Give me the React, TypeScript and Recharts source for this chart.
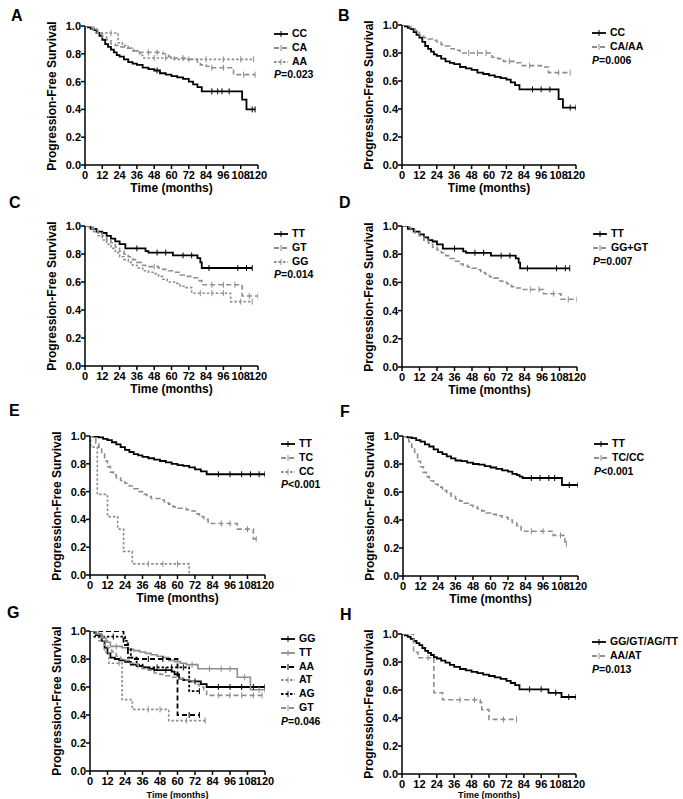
import React from "react";
import { LineChart, Line, XAxis, YAxis } from "recharts";

const FONT = "'Liberation Sans', Arial, Helvetica, sans-serif";

// [months, survival, censored?]
type Pt = [number, number, number?];

const xTicks = [0, 12, 24, 36, 48, 60, 72, 84, 96, 108, 120];
const yTicks = [0, 0.2, 0.4, 0.6, 0.8, 1.0];

// Panel A
const aLabels = ["CC", "CA", "AA"];
const aCC: Pt[] = [[0,1],[2,0.99],[4,0.98],[6,0.97],[8,0.95],[10,0.93],[12,0.9],[14,0.87],[16,0.85],[18,0.83],[20,0.81],[22,0.79],[24,0.78],[27,0.76],[30,0.74],[33,0.73],[36,0.72],[40,0.7],[44,0.69],[48,0.68],[50,0.68,1],[52,0.66],[56,0.65],[60,0.64],[64,0.63],[68,0.62],[72,0.6],[75,0.58],[78,0.56],[81,0.53],[88,0.53,1],[92,0.53,1],[95,0.53,1],[100,0.53,1],[109,0.47],[112,0.4],[116,0.4,1],[118,0.4,1]];
const aCA: Pt[] = [[0,1],[3,0.99],[6,0.97],[9,0.95],[12,0.92],[15,0.9],[18,0.87],[21,0.86],[24,0.85],[28,0.84],[32,0.82],[36,0.81],[44,0.81,1],[50,0.81,1],[54,0.8],[58,0.78],[62,0.77],[68,0.77,1],[72,0.76],[78,0.74],[80,0.72],[84,0.71],[88,0.7,1],[96,0.7,1],[103,0.65],[110,0.65,1],[118,0.65,1]];
const aAA: Pt[] = [[0,1],[4,0.98],[8,0.95],[18,0.95,1],[23,0.88],[26,0.86],[30,0.84],[34,0.82],[38,0.79],[40,0.77],[48,0.77,1],[56,0.77,1],[60,0.76],[72,0.76,1],[84,0.76,1],[96,0.76,1],[108,0.76,1],[117,0.76,1]];

// Panel B
const bLabels = ["CC", "CA/AA"];
const bCC: Pt[] = [[0,1],[2,0.99],[4,0.98],[6,0.97],[8,0.95],[10,0.93],[12,0.91],[14,0.88],[16,0.85],[18,0.83],[20,0.81],[22,0.79],[24,0.78],[27,0.76],[30,0.74],[33,0.73],[36,0.72],[40,0.7],[44,0.69],[48,0.68],[52,0.66],[56,0.65],[60,0.64],[64,0.63],[68,0.62],[72,0.61],[75,0.59],[78,0.57],[81,0.54],[90,0.54,1],[96,0.54,1],[102,0.54,1],[108,0.47],[111,0.41],[116,0.41,1],[120,0.41,1]];
const bCAAA: Pt[] = [[0,1],[3,0.99],[6,0.98],[9,0.96],[12,0.93],[15,0.91],[18,0.9],[21,0.89],[24,0.88],[27,0.86],[30,0.85],[33,0.83],[36,0.82],[40,0.8],[46,0.8,1],[52,0.8,1],[58,0.8,1],[62,0.77],[66,0.76],[70,0.74],[74,0.74,1],[78,0.73],[82,0.71],[88,0.71,1],[96,0.7],[101,0.66],[108,0.66,1],[116,0.66,1]];

// Panel C
const cLabels = ["TT", "GT", "GG"];
const cTT: Pt[] = [[0,1],[4,0.98],[8,0.96],[12,0.95],[15,0.93],[18,0.91],[21,0.89],[24,0.87],[28,0.84],[36,0.84,1],[42,0.82],[44,0.81],[50,0.81,1],[56,0.81,1],[61,0.79],[68,0.79,1],[74,0.79,1],[78,0.77],[80,0.74],[81,0.7],[86,0.7,1],[106,0.7,1],[112,0.7,1],[116,0.7,1]];
const cGT: Pt[] = [[0,1],[3,0.99],[6,0.97],[9,0.95],[12,0.93],[15,0.9],[18,0.88],[21,0.85],[24,0.82],[27,0.8],[30,0.78],[33,0.76],[36,0.74],[39,0.72],[42,0.71],[48,0.71,1],[51,0.7],[54,0.69],[58,0.68],[62,0.67],[66,0.65],[70,0.64],[74,0.63],[78,0.61],[81,0.58],[88,0.58,1],[96,0.58,1],[104,0.58,1],[109,0.5],[114,0.5,1],[120,0.5,1]];
const cGG: Pt[] = [[0,1],[3,0.98],[6,0.96],[9,0.93],[12,0.9],[15,0.87],[18,0.84],[21,0.81],[24,0.78],[27,0.76],[30,0.74],[33,0.72],[36,0.7],[40,0.68],[44,0.67],[48,0.66],[51,0.64],[54,0.62],[57,0.6],[62,0.59],[66,0.57],[70,0.56],[74,0.52],[80,0.52,1],[88,0.52,1],[96,0.52,1],[101,0.46],[108,0.46,1],[116,0.46,1]];

// Panel D
const dLabels = ["TT", "GG+GT"];
const dTT: Pt[] = [[0,1],[4,0.98],[8,0.96],[12,0.94],[15,0.92],[18,0.9],[21,0.89],[24,0.87],[28,0.84],[36,0.84,1],[42,0.82],[44,0.81],[50,0.81,1],[56,0.81,1],[61,0.79],[68,0.79,1],[74,0.79,1],[78,0.77],[80,0.74],[81,0.7],[86,0.7,1],[106,0.7,1],[112,0.7,1],[115,0.7,1]];
const dGGGT: Pt[] = [[0,1],[3,0.99],[6,0.97],[9,0.95],[12,0.93],[15,0.9],[18,0.88],[21,0.85],[24,0.83],[27,0.81],[30,0.79],[33,0.77],[36,0.75],[39,0.73],[42,0.72],[45,0.71],[48,0.7],[51,0.69],[54,0.67],[57,0.66],[60,0.64],[63,0.63],[66,0.61],[69,0.6],[72,0.59],[75,0.57],[78,0.56],[82,0.55],[88,0.55,1],[94,0.55,1],[97,0.52],[104,0.52,1],[109,0.48],[114,0.48,1],[120,0.48,1]];

// Panel E
const eLabels = ["TT", "TC", "CC"];
const eTT: Pt[] = [[0,1],[3,0.995],[6,0.99],[9,0.98],[12,0.97],[15,0.955],[18,0.94],[21,0.92],[24,0.9],[27,0.885],[30,0.87],[33,0.86],[36,0.85],[40,0.84],[44,0.83],[48,0.82],[52,0.81],[56,0.8],[60,0.79],[64,0.785],[68,0.775],[72,0.76],[76,0.745],[80,0.725],[88,0.725,1],[96,0.725,1],[104,0.725,1],[110,0.725,1],[116,0.725,1],[120,0.725,1]];
const eTC: Pt[] = [[0,1],[2,0.98],[4,0.95],[6,0.92],[8,0.87],[10,0.82],[12,0.78],[14,0.74],[16,0.72],[18,0.7],[21,0.68],[24,0.66],[27,0.64],[30,0.62],[33,0.6],[36,0.58],[39,0.565],[42,0.55],[48,0.54],[51,0.52],[54,0.51],[57,0.49],[60,0.48],[66,0.47],[70,0.46],[72,0.44],[75,0.42],[78,0.4],[81,0.37],[90,0.37,1],[96,0.37,1],[101,0.33],[108,0.33,1],[112,0.26],[114,0.26,1]];
const eCC: Pt[] = [[0,1],[0.5,0.92],[5,0.58],[12,0.42],[19,0.33],[23,0.17],[29,0.08],[40,0.08,1],[50,0.08,1],[60,0.08,1],[68,0]];

// Panel F
const fLabels = ["TT", "TC/CC"];
const fTT: Pt[] = [[0,1],[3,0.99],[6,0.985],[9,0.97],[12,0.96],[15,0.94],[18,0.925],[21,0.905],[24,0.885],[27,0.87],[30,0.855],[33,0.84],[36,0.825],[40,0.82],[44,0.81],[48,0.8],[52,0.795],[56,0.785],[60,0.775],[64,0.765],[68,0.755],[72,0.745],[75,0.73],[78,0.72],[80,0.71],[82,0.7],[88,0.7,1],[94,0.7,1],[100,0.7,1],[104,0.7,1],[109,0.65],[114,0.65,1],[120,0.65,1]];
const fTCCC: Pt[] = [[0,1],[2,0.985],[4,0.96],[6,0.92],[8,0.87],[10,0.82],[12,0.78],[14,0.74],[16,0.71],[18,0.68],[21,0.655],[24,0.635],[27,0.61],[30,0.59],[33,0.57],[36,0.55],[39,0.535],[42,0.52],[45,0.505],[48,0.495],[51,0.48],[54,0.465],[57,0.45],[60,0.44],[64,0.43],[68,0.42],[72,0.4],[75,0.38],[78,0.36],[81,0.32],[88,0.32,1],[96,0.32,1],[103,0.29],[108,0.29,1],[111,0.23],[112,0.23,1]];

// Panel G
const gLabels = ["GG", "TT", "AA", "AT", "AG", "GT"];
const gGG: Pt[] = [[0,1],[4,0.97],[8,0.93],[10,0.88],[12,0.84],[14,0.81],[17,0.8],[20,0.79],[24,0.78],[28,0.76],[32,0.75],[36,0.74],[40,0.73],[44,0.72],[52,0.72,1],[56,0.71],[58,0.69],[61,0.66],[64,0.65],[68,0.64],[72,0.64,1],[76,0.62],[80,0.6],[88,0.6,1],[96,0.6,1],[104,0.6,1],[112,0.6,1],[120,0.6,1]];
const gTT: Pt[] = [[0,1],[4,0.98],[8,0.95],[11,0.92],[14,0.89],[18,0.89,1],[22,0.88],[26,0.87],[30,0.86],[34,0.85],[38,0.84],[42,0.83],[46,0.82],[50,0.81],[54,0.79],[58,0.78],[62,0.77],[66,0.76],[70,0.76,1],[74,0.73],[82,0.73,1],[90,0.73,1],[96,0.73,1],[101,0.67],[106,0.67,1],[110,0.58],[116,0.58,1],[120,0.58,1]];
const gAA: Pt[] = [[0,1],[22,1],[23,0.9],[26,0.81],[30,0.8],[40,0.8,1],[50,0.8,1],[59,0.8],[60,0.4],[68,0.4,1],[75,0.4,1]];
const gAT: Pt[] = [[0,1],[6,0.93],[10,0.85],[13,0.77],[20,0.77,1],[22,0.51],[29,0.44],[40,0.44,1],[48,0.44,1],[54,0.36],[66,0.36,1],[79,0.36,1]];
const gAG: Pt[] = [[0,1],[3,0.96],[16,0.96,1],[24,0.93],[26,0.87],[28,0.81],[32,0.76],[36,0.74],[46,0.74,1],[56,0.74,1],[64,0.74,1],[68,0.57],[75,0.57,1]];
const gGT: Pt[] = [[0,1],[3,0.98],[6,0.96],[9,0.93],[12,0.88],[15,0.85],[18,0.82],[21,0.8],[24,0.79],[27,0.77],[30,0.76],[33,0.74],[36,0.73],[40,0.72],[44,0.7],[48,0.69],[52,0.68],[56,0.67],[60,0.66],[64,0.65],[68,0.64],[72,0.62],[75,0.6],[78,0.57],[80,0.54],[88,0.54,1],[96,0.54,1],[104,0.54,1],[112,0.54,1],[118,0.54,1]];

// Panel H
const hLabels = ["GG/GT/AG/TT", "AA/AT"];
const hMain: Pt[] = [[0,1],[2,0.99],[4,0.98],[6,0.965],[8,0.95],[10,0.935],[12,0.92],[14,0.9],[16,0.88],[18,0.865],[20,0.85],[22,0.835],[24,0.825],[27,0.81],[30,0.795],[33,0.78],[36,0.765],[40,0.75],[44,0.74],[48,0.73],[52,0.72],[56,0.71],[60,0.7],[64,0.69],[68,0.68],[72,0.665],[75,0.65],[78,0.635],[81,0.605],[88,0.605,1],[96,0.605,1],[101,0.58],[106,0.58,1],[110,0.55],[115,0.55,1],[120,0.55,1]];
const hAAAT: Pt[] = [[0,1],[8,0.87],[11,0.83],[18,0.83,1],[22,0.58],[28,0.53],[40,0.53,1],[50,0.53,1],[54,0.51],[55,0.46],[60,0.39],[70,0.39,1],[79,0.39,1]];

const pValues = ["=0.023", "=0.006", "=0.014", "=0.007", "<0.001", "<0.001", "=0.046", "=0.013"];

const BLACK = "#000";
const GRAY = "#8d8d8d";
const LONG = "5 3";
const SHORT = "2.5 2";

interface Series { name: string; pts: Pt[]; color: string; dash?: string }
interface Panel {
  letter: string;
  letterX: number;
  letterBase: number;
  xL: number;
  xR: number;
  yT: number;
  yB: number;
  series: Series[];
  p: string;
}

const panels: Panel[] = [
  { letter: "A", letterX: 11, letterBase: 21, xL: 85, xR: 258, yT: 26, yB: 165, p: pValues[0],
    series: [
      { name: aLabels[0], pts: aCC, color: BLACK },
      { name: aLabels[1], pts: aCA, color: GRAY, dash: LONG },
      { name: aLabels[2], pts: aAA, color: GRAY, dash: SHORT },
    ] },
  { letter: "B", letterX: 338, letterBase: 21, xL: 402, xR: 576, yT: 25, yB: 165, p: pValues[1],
    series: [
      { name: bLabels[0], pts: bCC, color: BLACK },
      { name: bLabels[1], pts: bCAAA, color: GRAY, dash: LONG },
    ] },
  { letter: "C", letterX: 9, letterBase: 208, xL: 85, xR: 258, yT: 226, yB: 366, p: pValues[2],
    series: [
      { name: cLabels[0], pts: cTT, color: BLACK },
      { name: cLabels[1], pts: cGT, color: GRAY, dash: LONG },
      { name: cLabels[2], pts: cGG, color: GRAY, dash: SHORT },
    ] },
  { letter: "D", letterX: 339, letterBase: 208, xL: 402, xR: 577, yT: 226, yB: 367, p: pValues[3],
    series: [
      { name: dLabels[0], pts: dTT, color: BLACK },
      { name: dLabels[1], pts: dGGGT, color: GRAY, dash: LONG },
    ] },
  { letter: "E", letterX: 9, letterBase: 416, xL: 90, xR: 265, yT: 436, yB: 575, p: pValues[4],
    series: [
      { name: eLabels[0], pts: eTT, color: BLACK },
      { name: eLabels[1], pts: eTC, color: GRAY, dash: LONG },
      { name: eLabels[2], pts: eCC, color: GRAY, dash: SHORT },
    ] },
  { letter: "F", letterX: 340, letterBase: 417, xL: 403, xR: 578, yT: 436, yB: 576, p: pValues[5],
    series: [
      { name: fLabels[0], pts: fTT, color: BLACK },
      { name: fLabels[1], pts: fTCCC, color: GRAY, dash: LONG },
    ] },
  { letter: "G", letterX: 7, letterBase: 618, xL: 90, xR: 265, yT: 631, yB: 771, p: pValues[6],
    series: [
      { name: gLabels[0], pts: gGG, color: BLACK },
      { name: gLabels[1], pts: gTT, color: GRAY },
      { name: gLabels[2], pts: gAA, color: BLACK, dash: LONG },
      { name: gLabels[3], pts: gAT, color: GRAY, dash: SHORT },
      { name: gLabels[4], pts: gAG, color: BLACK, dash: SHORT },
      { name: gLabels[5], pts: gGT, color: GRAY, dash: LONG },
    ] },
  { letter: "H", letterX: 340, letterBase: 620, xL: 402, xR: 576, yT: 634, yB: 774, p: pValues[7],
    series: [
      { name: hLabels[0], pts: hMain, color: BLACK },
      { name: hLabels[1], pts: hAAAT, color: GRAY, dash: LONG },
    ] },
];

const toRows = (pts: Pt[]) => pts.map(([t, s, c]) => ({ t, s, c: !!c }));

const censorDot = (color: string) => (props: any) => {
  const { cx, cy, payload, index } = props;
  if (!payload || !payload.c || cx == null || cy == null) return <g key={`n${index}`} />;
  return <line key={`c${index}`} x1={cx} x2={cx} y1={cy - 3} y2={cy + 3} stroke={color} strokeWidth={1} />;
};

const axisStyle = { stroke: "#000", strokeWidth: 1.5 };
const tickStyle = { fill: "#000", fontSize: 11, fontWeight: "bold" as const, fontFamily: FONT };

const KMPanel: React.FC<{ p: Panel }> = ({ p }) => {
  const padL = 40, padT = 10, padR = 12, padB = 22;
  const w = p.xR - p.xL + padL + padR;
  const h = p.yB - p.yT + padT + padB;
  const rowH = 13.8;
  // bottom row: the page edge cuts in, so the time title gets squeezed in below the ticks
  const atEdge = p.yB + 23 > 785;
  const timeY = atEdge ? 795 : p.yB + 23;
  const timeSize = atEdge ? 9 : 12;
  return (
    <>
      <div style={{ position: "absolute", left: p.letterX, top: p.letterBase - 13.5, fontSize: 16, lineHeight: "16px", fontWeight: "bold", fontFamily: FONT }}>
        {p.letter}
      </div>
      <div style={{ position: "absolute", left: p.xL - padL, top: p.yT - padT }}>
        <LineChart width={w} height={h} margin={{ top: padT, right: padR, left: 0, bottom: 0 }}>
          <XAxis
            type="number"
            dataKey="t"
            domain={[0, 120]}
            ticks={xTicks}
            interval={0}
            allowDataOverflow
            height={padB}
            tickSize={4}
            tickMargin={2}
            axisLine={axisStyle}
            tickLine={axisStyle}
            tick={tickStyle}
          />
          <YAxis
            type="number"
            domain={[0, 1]}
            ticks={yTicks}
            interval={0}
            allowDataOverflow
            width={padL}
            tickSize={4}
            tickMargin={0}
            axisLine={axisStyle}
            tickLine={axisStyle}
            tick={tickStyle}
            tickFormatter={(v: number) => v.toFixed(1)}
          />
          {p.series.map((s) => (
            <Line
              key={s.name}
              data={toRows(s.pts)}
              dataKey="s"
              type="stepAfter"
              stroke={s.color}
              strokeWidth={s.color === BLACK ? 1.8 : 1.6}
              strokeDasharray={s.dash}
              dot={censorDot(s.color)}
              activeDot={false}
              isAnimationActive={false}
            />
          ))}
        </LineChart>
      </div>
      <div
        style={{
          position: "absolute",
          left: p.xL - 33 - 100,
          top: (p.yT + p.yB) / 2 - 8,
          width: 200,
          height: 16,
          lineHeight: "16px",
          textAlign: "center",
          transform: "rotate(-90deg)",
          fontSize: 12,
          fontWeight: "bold",
          fontFamily: FONT,
        }}
      >
        Progression-Free Survival
      </div>
      <div
        style={{
          position: "absolute",
          left: (p.xL + p.xR) / 2 - 60,
          top: timeY - timeSize / 2,
          width: 120,
          height: timeSize,
          lineHeight: `${timeSize}px`,
          textAlign: "center",
          fontSize: timeSize,
          fontWeight: "bold",
          fontFamily: FONT,
        }}
      >
        Time (months)
      </div>
      <div style={{ position: "absolute", left: p.xR + 16, top: p.yT + 8 - rowH / 2, fontSize: 10.5, fontWeight: "bold", fontFamily: FONT }}>
        {p.series.map((s) => (
          <div key={s.name} style={{ height: rowH, lineHeight: `${rowH}px`, display: "flex", alignItems: "center", whiteSpace: "nowrap" }}>
            <svg width={14} height={8} style={{ marginRight: 4 }}>
              <line x1={0} x2={14} y1={4} y2={4} stroke={s.color} strokeWidth={1.8} strokeDasharray={s.dash} />
              <line x1={7} x2={7} y1={1} y2={7} stroke={s.color} strokeWidth={1} />
            </svg>
            {s.name}
          </div>
        ))}
        <div style={{ height: rowH, lineHeight: `${rowH}px`, whiteSpace: "nowrap" }}>
          <i>P</i>
          {p.p}
        </div>
      </div>
    </>
  );
};

export default function App() {
  return (
    <div style={{ position: "relative", width: 683, height: 799, overflow: "hidden", background: "#fff" }}>
      <style>{`body{margin:0;}`}</style>
      {panels.map((p) => (
        <KMPanel key={p.letter} p={p} />
      ))}
    </div>
  );
}
